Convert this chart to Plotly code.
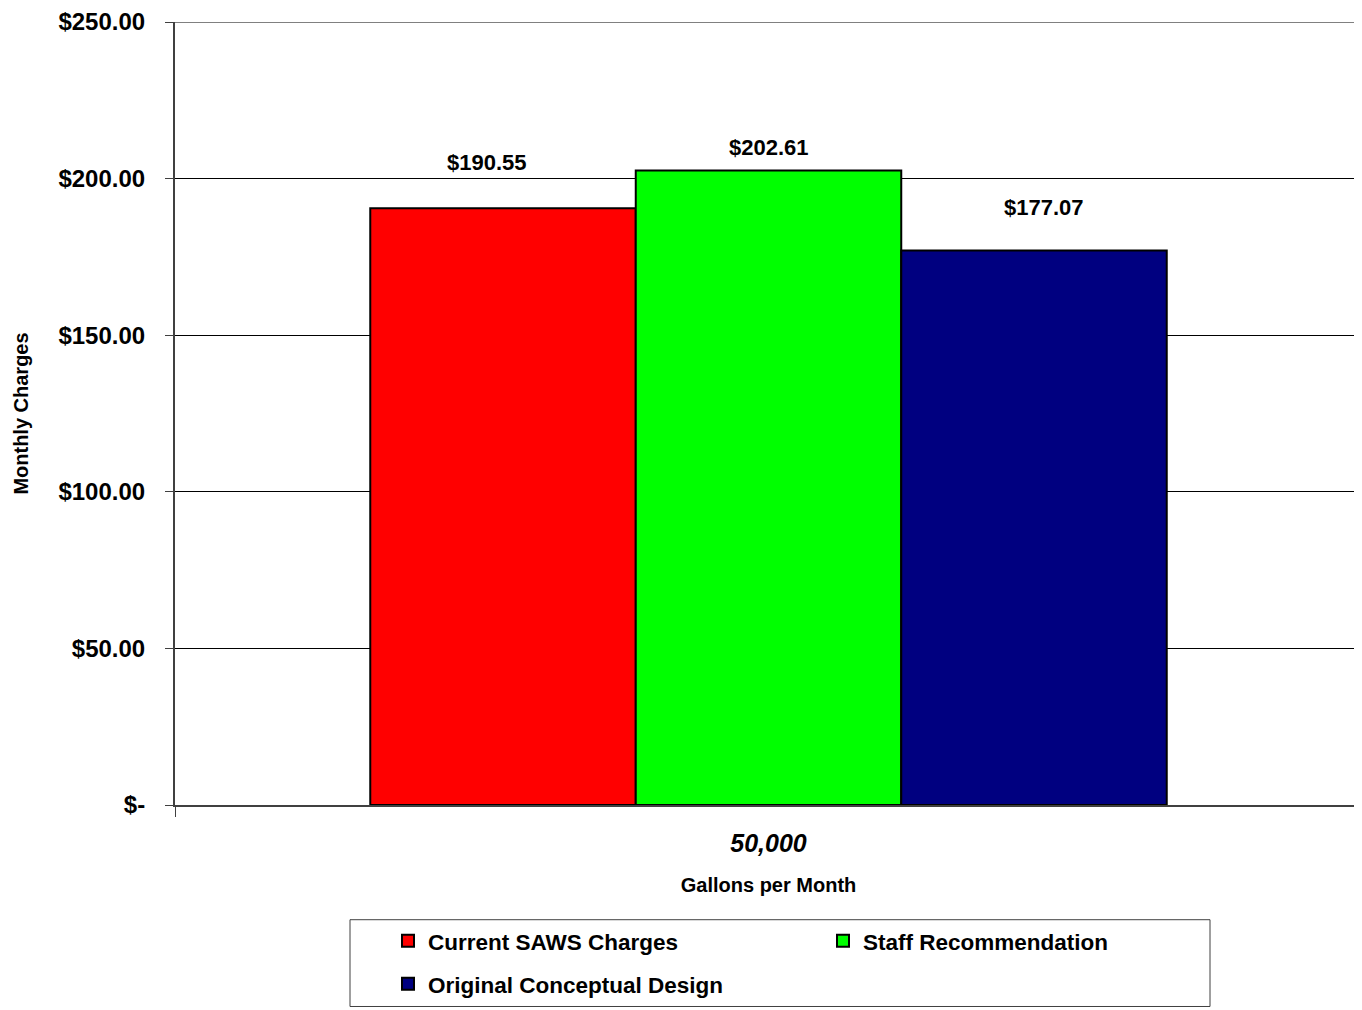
import plotly.graph_objects as go

# ---- data ----
categories = ["50,000"]
series_names = ["Current SAWS Charges", "Staff Recommendation", "Original Conceptual Design"]
series_values = [[190.55], [202.61], [177.07]]
value_labels = ["$190.55", "$202.61", "$177.07"]
y_tickvals = [0, 50, 100, 150, 200, 250]
y_ticktext = ["$-", "$50.00", "$100.00", "$150.00", "$200.00", "$250.00"]

# ---- styles ----
colors = ["#FF0000", "#00FF00", "#000080"]
legend_ids = ["legend", "legend", "legend2"]
label_yshift = [46, 23, 43]
label_xshift = [-16, 0, 10]
FONT = "Arial, 'Liberation Sans', sans-serif"
BARGAP = 0.329
# page body has an 8px margin; plot area spans x 175..1362, y 20..805 in the window
PW, PH = 1187, 785
ML, MT = 167, 12

fig = go.Figure()
for name, vals, col, lg in zip(series_names, series_values, colors, legend_ids):
    fig.add_trace(go.Bar(
        x=categories, y=vals, name=name, legend=lg,
        marker=dict(color=col, line=dict(color="#000000", width=2)),
    ))

n = len(series_names)
bw = (1 - BARGAP) / n
for i, (vals, lab) in enumerate(zip(series_values, value_labels)):
    xpos = -(1 - BARGAP) / 2 + bw * (i + 0.5)
    fig.add_annotation(x=xpos, y=vals[0], text="<b>%s</b>" % lab, showarrow=False,
                       yanchor="middle", yshift=label_yshift[i], xshift=label_xshift[i],
                       xref="x", yref="y",
                       font=dict(family=FONT, size=22, color="#000000"))

# top border of plot area
fig.add_shape(type="line", xref="paper", yref="y", x0=0, x1=1, y0=250, y1=250,
              line=dict(color="#808080", width=2), layer="above")
# legend box
fig.add_shape(type="rect", xref="paper", yref="paper",
              x0=(350 - 175) / PW, x1=(1210 - 175) / PW,
              y0=(805 - 1007) / PH, y1=(805 - 920) / PH,
              line=dict(color="#404040", width=1), fillcolor="rgba(0,0,0,0)")

legend_font = dict(family=FONT, size=22.5, color="#000000", weight="bold")
fig.update_layout(
    width=ML + PW, height=MT + PH + 205,
    margin=dict(l=ML, r=0, t=MT, b=205),
    paper_bgcolor="white", plot_bgcolor="white",
    barmode="group", bargap=BARGAP, bargroupgap=0,
    font=dict(family=FONT, color="#000000"),
    showlegend=True,
    legend=dict(orientation="h", x=(388 - 175) / PW, xanchor="left",
                y=(805 - 920) / PH, yanchor="top",
                entrywidth=390, entrywidthmode="pixels",
                font=legend_font,
                bgcolor="rgba(0,0,0,0)", borderwidth=0, traceorder="normal"),
    legend2=dict(orientation="h", x=(388 - 175) / PW, xanchor="left",
                 y=(805 - 963) / PH, yanchor="top",
                 entrywidth=390, entrywidthmode="pixels",
                 font=legend_font,
                 bgcolor="rgba(0,0,0,0)", borderwidth=0),
    xaxis=dict(
        type="category", range=[-0.5, 0.5],
        showline=True, linecolor="#404040", linewidth=2,
        ticks="outside", tickson="boundaries", ticklen=10, tickcolor="#404040", tickwidth=1,
        showgrid=False,
        tickfont=dict(family=FONT, size=25, color="#000000", weight="bold", style="italic"),
        ticklabelstandoff=15,
        title=dict(text="<b>Gallons per Month</b>", standoff=22,
                   font=dict(family=FONT, size=20, color="#000000")),
    ),
    yaxis=dict(
        range=[0, 250], tickvals=y_tickvals, ticktext=y_ticktext,
        showline=True, linecolor="#404040", linewidth=2,
        ticks="outside", ticklen=8, tickcolor="#404040", tickwidth=1,
        showgrid=True, gridcolor="#000000", gridwidth=1, zeroline=False,
        tickfont=dict(family=FONT, size=24, color="#000000", weight="bold"),
        ticklabelstandoff=15, ticklabeloverflow="allow",
        title=dict(text="<b>Monthly Charges</b>", standoff=24,
                   font=dict(family=FONT, size=20, color="#000000")),
    ),
)

fig.write_html("out.html")
